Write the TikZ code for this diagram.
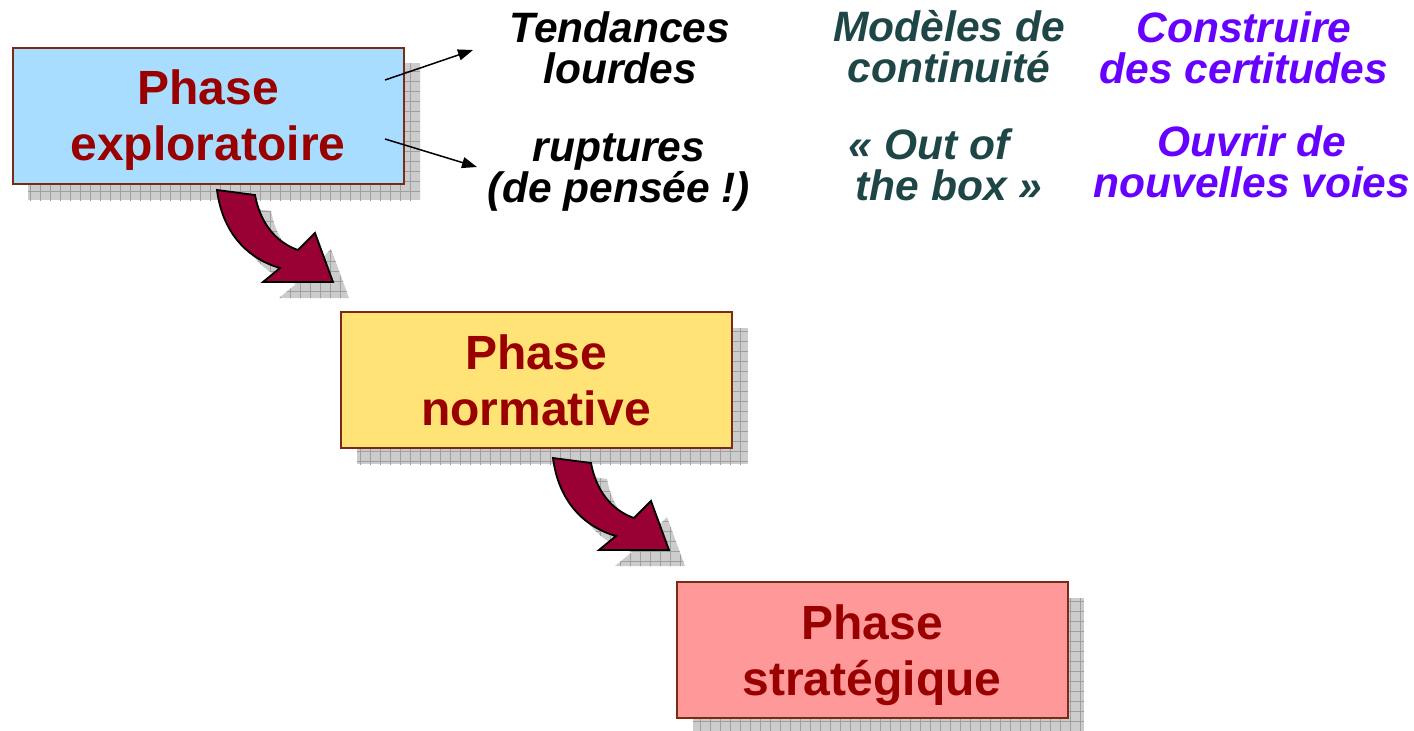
\documentclass[tikz,border=0pt]{standalone}
\usepackage{fontspec}
\setmainfont{Liberation Sans}
\usetikzlibrary{arrows.meta,patterns.meta}
\definecolor{boxblue}{HTML}{A9DDFF}
\definecolor{boxyellow}{HTML}{FFE377}
\definecolor{boxpink}{HTML}{FF9999}
\definecolor{boxline}{HTML}{7A2B16}
\definecolor{phasered}{HTML}{990000}
\definecolor{arrowred}{HTML}{990033}
\definecolor{tealtext}{HTML}{1F4646}
\definecolor{purpletext}{HTML}{6600FF}
\begin{document}
\begin{tikzpicture}[x=1pt,y=-1pt,
  phasebox/.style={draw=boxline, line width=2pt, rectangle, minimum width=391pt,
    minimum height=136pt, inner sep=0pt, text=phasered,
    font=\fontsize{48}{56}\selectfont\bfseries, align=center, text depth=0pt},
  shadowfill/.style={fill=gray!40, postaction={pattern={Hatch[angle=0,distance=10pt,line width=0.6pt]}, pattern color=gray!75}},
  label/.style={font=\fontsize{42.5}{40.5}\selectfont\bfseries\itshape, align=center, anchor=base, inner sep=0pt},
  thinarrow/.style={-{Triangle[length=15pt,width=11pt]}, line width=1.5pt},
  blockarrow/.pic={
    \path[shadowfill, shift={(16,16)}] (217,190) -- (255,195) .. controls (260,222) and (275,242) .. (298,250) -- (315,233) -- (333,282) -- (263,282) -- (280,268) .. controls (245,258) and (222,230) .. (217,190) -- cycle;
    \draw[fill=arrowred, line width=1.8pt, line join=miter] (217,190) -- (255,195) .. controls (260,222) and (275,242) .. (298,250) -- (315,233) -- (333,282) -- (263,282) -- (280,268) .. controls (245,258) and (222,230) .. (217,190) -- cycle;
  }]
\useasboundingbox (0,0) rectangle (1414,731);

% box shadows (drawn first)
\path[shadowfill] (28,63) rectangle (420,200);
\path[shadowfill] (357,328) rectangle (748,464);
\path[shadowfill] (693,598) rectangle (1084,734);

% block arrows
\pic at (0,0) {blockarrow};
\pic at (336,268) {blockarrow};

% boxes
\node[phasebox, fill=boxblue] (explo) at (208,115.5) {Phase\\exploratoire};
\node[phasebox, fill=boxyellow] (norm) at (536,380) {Phase\\normative};
\node[phasebox, fill=boxpink] (strat) at (872,650) {Phase\\stratégique};

% labels (anchor = baseline of last line)
\node[label, text=black] (tend) at (620,83) {Tendances\\lourdes};
\node[label, text=black] (rupt) at (619,202) {ruptures\\(de pensée !)};
\node[label, text=tealtext] (mod) at (949,82) {Modèles de\\continuité};
\node[label, text=tealtext] (oob) at (949,200) {« Out of\hspace*{40pt}\\the box »};
\node[label, text=purpletext] (constr) at (1244,83) {Construire\\des certitudes};
\node[label, text=purpletext] (ouvr) at (1252,197) {Ouvrir de\\nouvelles voies};

% thin arrows
\coordinate (a1s) at (385,80);
\coordinate (a1e) at (473,50);
\coordinate (a2s) at (385,139);
\coordinate (a2e) at (477,167);
\draw[thinarrow] (a1s) -- (a1e);
\draw[thinarrow] (a2s) -- (a2e);
\end{tikzpicture}
\end{document}
